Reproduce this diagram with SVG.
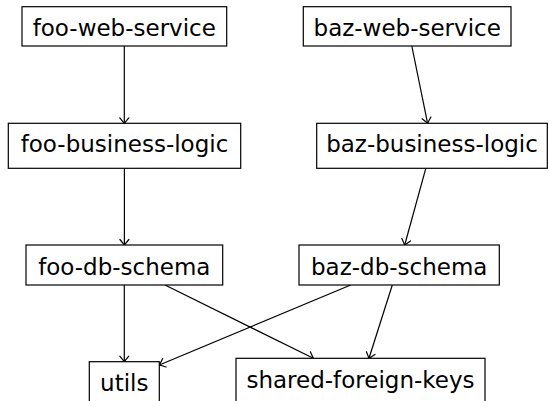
<svg xmlns="http://www.w3.org/2000/svg" width="549" height="401" viewBox="0 0 549 401">
<style>
.box{fill:#fff;stroke:#000;stroke-width:1.2}
.lbl{font-family:"DejaVu Sans",sans-serif;font-size:23px;fill:#000;text-anchor:middle}
.edge{fill:none;stroke:#000;stroke-width:1.2;marker-end:url(#tip)}
</style>
<defs>
<marker id="tip" markerUnits="userSpaceOnUse" viewBox="-7 -6 8 12" refX="0" refY="0" markerWidth="8" markerHeight="12" orient="auto">
<path d="M-5.5,-4.5 Q-1.8,-1.4 0,0 Q-1.8,1.4 -5.5,4.5" fill="none" stroke="#000" stroke-width="1.2" stroke-linecap="round"/>
</marker>
</defs>
<rect width="549" height="401" fill="#fff"/>
<g id="edges">
<line class="edge" x1="124.3" y1="46" x2="124.3" y2="123.3"/>
<line class="edge" x1="411.8" y1="46" x2="427.6" y2="123.3"/>
<line class="edge" x1="124.4" y1="168.3" x2="124.4" y2="245"/>
<line class="edge" x1="425.8" y1="168.3" x2="404.7" y2="245"/>
<line class="edge" x1="124.3" y1="285" x2="124.3" y2="361.7"/>
<line class="edge" x1="165" y1="285" x2="313.3" y2="358.3"/>
<line class="edge" x1="350.7" y1="285" x2="159.3" y2="365"/>
<line class="edge" x1="392.3" y1="285" x2="369" y2="358.3"/>
</g>
<g id="foo-web-service"><rect class="box" x="22" y="6.7" width="204.7" height="39.3"/><text class="lbl" x="124.3" y="36.4">foo-web-service</text></g>
<g id="baz-web-service"><rect class="box" x="303.3" y="6.7" width="207.7" height="39.3"/><text class="lbl" x="407.2" y="36.4">baz-web-service</text></g>
<g id="foo-business-logic"><rect class="box" x="8.3" y="123.3" width="232.4" height="45"/><text class="lbl" x="124.5" y="152">foo-business-logic</text></g>
<g id="baz-business-logic"><rect class="box" x="316.7" y="123.3" width="230.6" height="45"/><text class="lbl" x="432" y="152">baz-business-logic</text></g>
<g id="foo-db-schema"><rect class="box" x="26" y="245" width="196.7" height="40"/><text class="lbl" x="124.3" y="274.5">foo-db-schema</text></g>
<g id="baz-db-schema"><rect class="box" x="299" y="245" width="200.3" height="40"/><text class="lbl" x="399.2" y="274.5">baz-db-schema</text></g>
<g id="utils"><rect class="box" x="89.3" y="361.7" width="70" height="40"/><text class="lbl" x="124.3" y="391.4">utils</text></g>
<g id="shared-foreign-keys"><rect class="box" x="236" y="358.3" width="249" height="45"/><text class="lbl" x="360.5" y="387.6">shared-foreign-keys</text></g>
</svg>
